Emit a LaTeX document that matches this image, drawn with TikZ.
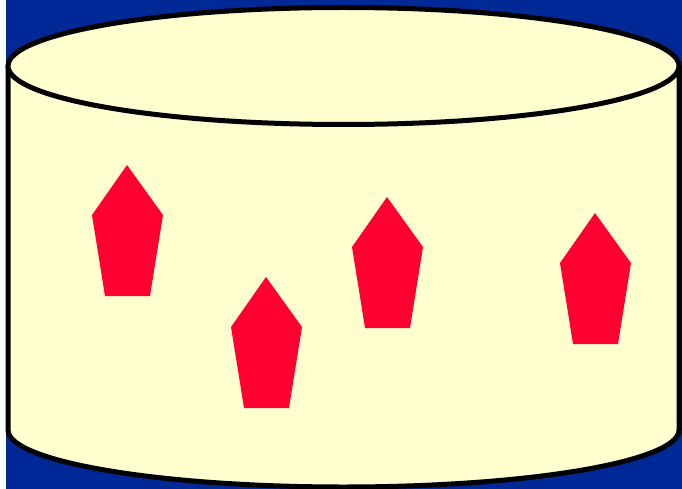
\documentclass[tikz,border=0pt]{standalone}
\usepackage{tikz}
\usetikzlibrary{positioning}
\definecolor{bgblue}{RGB}{0,40,150}
\definecolor{canyellow}{RGB}{255,255,208}
\definecolor{tokred}{RGB}{255,0,48}
\begin{document}
\begin{tikzpicture}[x=1pt,y=-1pt]
	\useasboundingbox (0,0) rectangle (682,489);
	\fill[white] (0,0) rectangle (682,489);
	\fill[bgblue] (6,0) rectangle (682,489);
	% body of the cylinder
	\filldraw[fill=canyellow,draw=black,line width=5pt] (8,66) -- (8,430)
		arc[start angle=180,end angle=0,x radius=335.5,y radius=57] -- (679,66);
	% lid
	\filldraw[fill=canyellow,draw=black,line width=5pt] (343.5,66) ellipse[x radius=335.5,y radius=58.5];
	\foreach\i\j in {127/165, 266/277, 387/197, 595/213}
	{\fill[tokred] (\i,\j) -- ++(36,50) -- ++(-13,81) -- ++(-45,0) -- ++(-13,-81) -- cycle;}
\end{tikzpicture}
\end{document}
